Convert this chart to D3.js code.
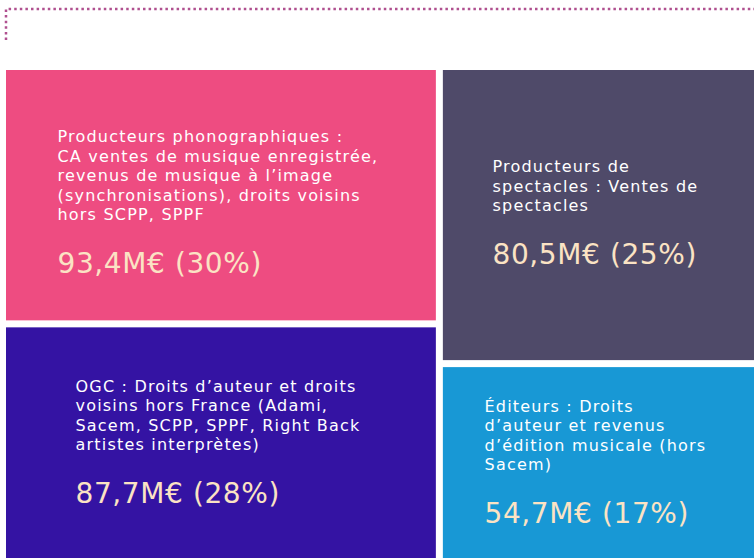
<!DOCTYPE html>
<html>
<head>
<meta charset="utf-8">
<script src="https://cdn.jsdelivr.net/npm/d3@7"></script>
<style>
  body { margin: 0; background: #fff; overflow: hidden; }
  #graf { width: 754px; height: 558px; }
</style>
</head>
<body>
<div id="graf"></div>
<script>
// Répartition des revenus - treemap

// Données
colonnes = ['gauche', 'droite']
categories = ['prod_phono', 'ogc', 'prod_spectacles', 'editeurs']
colonneDe  = ['gauche', 'gauche', 'droite', 'droite']
valeurs    = [93.4, 87.7, 80.5, 54.7]
parts      = [30, 28, 25, 17]
etiquettes = [
  ['', 'Producteurs phonographiques :', 'CA ventes de musique enregistrée,', 'revenus de musique à l\u2019image', '(synchronisations), droits voisins', 'hors SCPP, SPPF'],
  ['OGC : Droits d\u2019auteur et droits', 'voisins hors France (Adami,', 'Sacem, SCPP, SPPF, Right Back', 'artistes interprètes)'],
  ['Producteurs de', 'spectacles : Ventes de', 'spectacles'],
  ['Éditeurs : Droits', 'd\u2019auteur et revenus', 'd\u2019édition musicale (hors', 'Sacem)']
]
couleurs = ['#ee4c81', '#3413a3', '#4f4a69', '#1898d5']

ancho_total = 754
alto_total  = 558
margins = { top: 70, left: 6 }
ancho = 756
alto  = 492

svg = d3.select('#graf').append('svg')
        .attr('width', ancho_total)
        .attr('height', alto_total)

// bordure pointillée en haut à gauche
svg.append('path')
    .attr('d', d3.line()([[6, 40], [6, 9], [ancho_total, 9]]))
    .attr('fill', 'none')
    .attr('stroke', '#b0508f')
    .attr('stroke-width', 2.5)
    .attr('stroke-dasharray', '2.5 3.1')

// hiérarchie : deux colonnes, chacune empilée
raiz = {
  name: 'root',
  children: colonnes.map(c => ({
    name: c,
    children: categories
      .map((k, i) => ({ name: k, i: i, value: valeurs[i] }))
      .filter(d => colonneDe[d.i] === c)
  }))
}

root = d3.hierarchy(raiz).sum(d => d.value || 0)

d3.treemap()
  .size([ancho, alto])
  .paddingInner(7)
  .tile(d3.treemapSliceDice)(root)

g = svg.append('g')
        .attr('transform', `translate(${margins.left}, ${margins.top})`)

celdas = g.selectAll('g.celda')
          .data(root.leaves())
          .join('g')
          .attr('class', 'celda')
          .attr('transform', d => `translate(${d.x0}, ${d.y0})`)

celdas.append('rect')
      .attr('width', d => d.x1 - d.x0)
      .attr('height', d => d.y1 - d.y0)
      .attr('fill', d => couleurs[d.data.i])

fmt = v => d3.format('.1f')(v).replace('.', ',')

interligne = 19.5
ecartValeur = 53

celdas.each(function(d) {
  cel = d3.select(this)
  lignes = etiquettes[d.data.i]
  txt = cel.append('g')

  lab = txt.append('text')
          .attr('fill', '#ffffff')
          .style('font-family', 'DejaVu Sans')
          .style('font-size', '16px')
          .style('letter-spacing', '1.2px')
  lignes.forEach((l, k) => {
    lab.append('tspan')
       .attr('x', 0)
       .attr('y', k * interligne)
       .text(l)
  })

  yVal = (lignes.length - 1) * interligne + ecartValeur
  val = txt.append('text')
          .attr('y', yVal)
          .attr('fill', '#fbe3c4')
          .style('font-family', 'DejaVu Sans')
          .style('font-size', '28px')
          .style('letter-spacing', '0.6px')
          .text(`${fmt(valeurs[d.data.i])}M€ (${parts[d.data.i]}%)`)

  // centrer le bloc dans la partie visible de la cellule
  larg = d3.max(lab.selectAll('tspan').nodes().concat([val.node()]), n => n.getComputedTextLength())
  visible = Math.min(d.x1, ancho_total - margins.left) - d.x0
  hBloc = yVal + 12 + 6
  h = d.y1 - d.y0
  txt.attr('transform', `translate(${(visible - larg) / 2 - 3}, ${(h - hBloc) / 2 + 12})`)
})
</script>
</body>
</html>
